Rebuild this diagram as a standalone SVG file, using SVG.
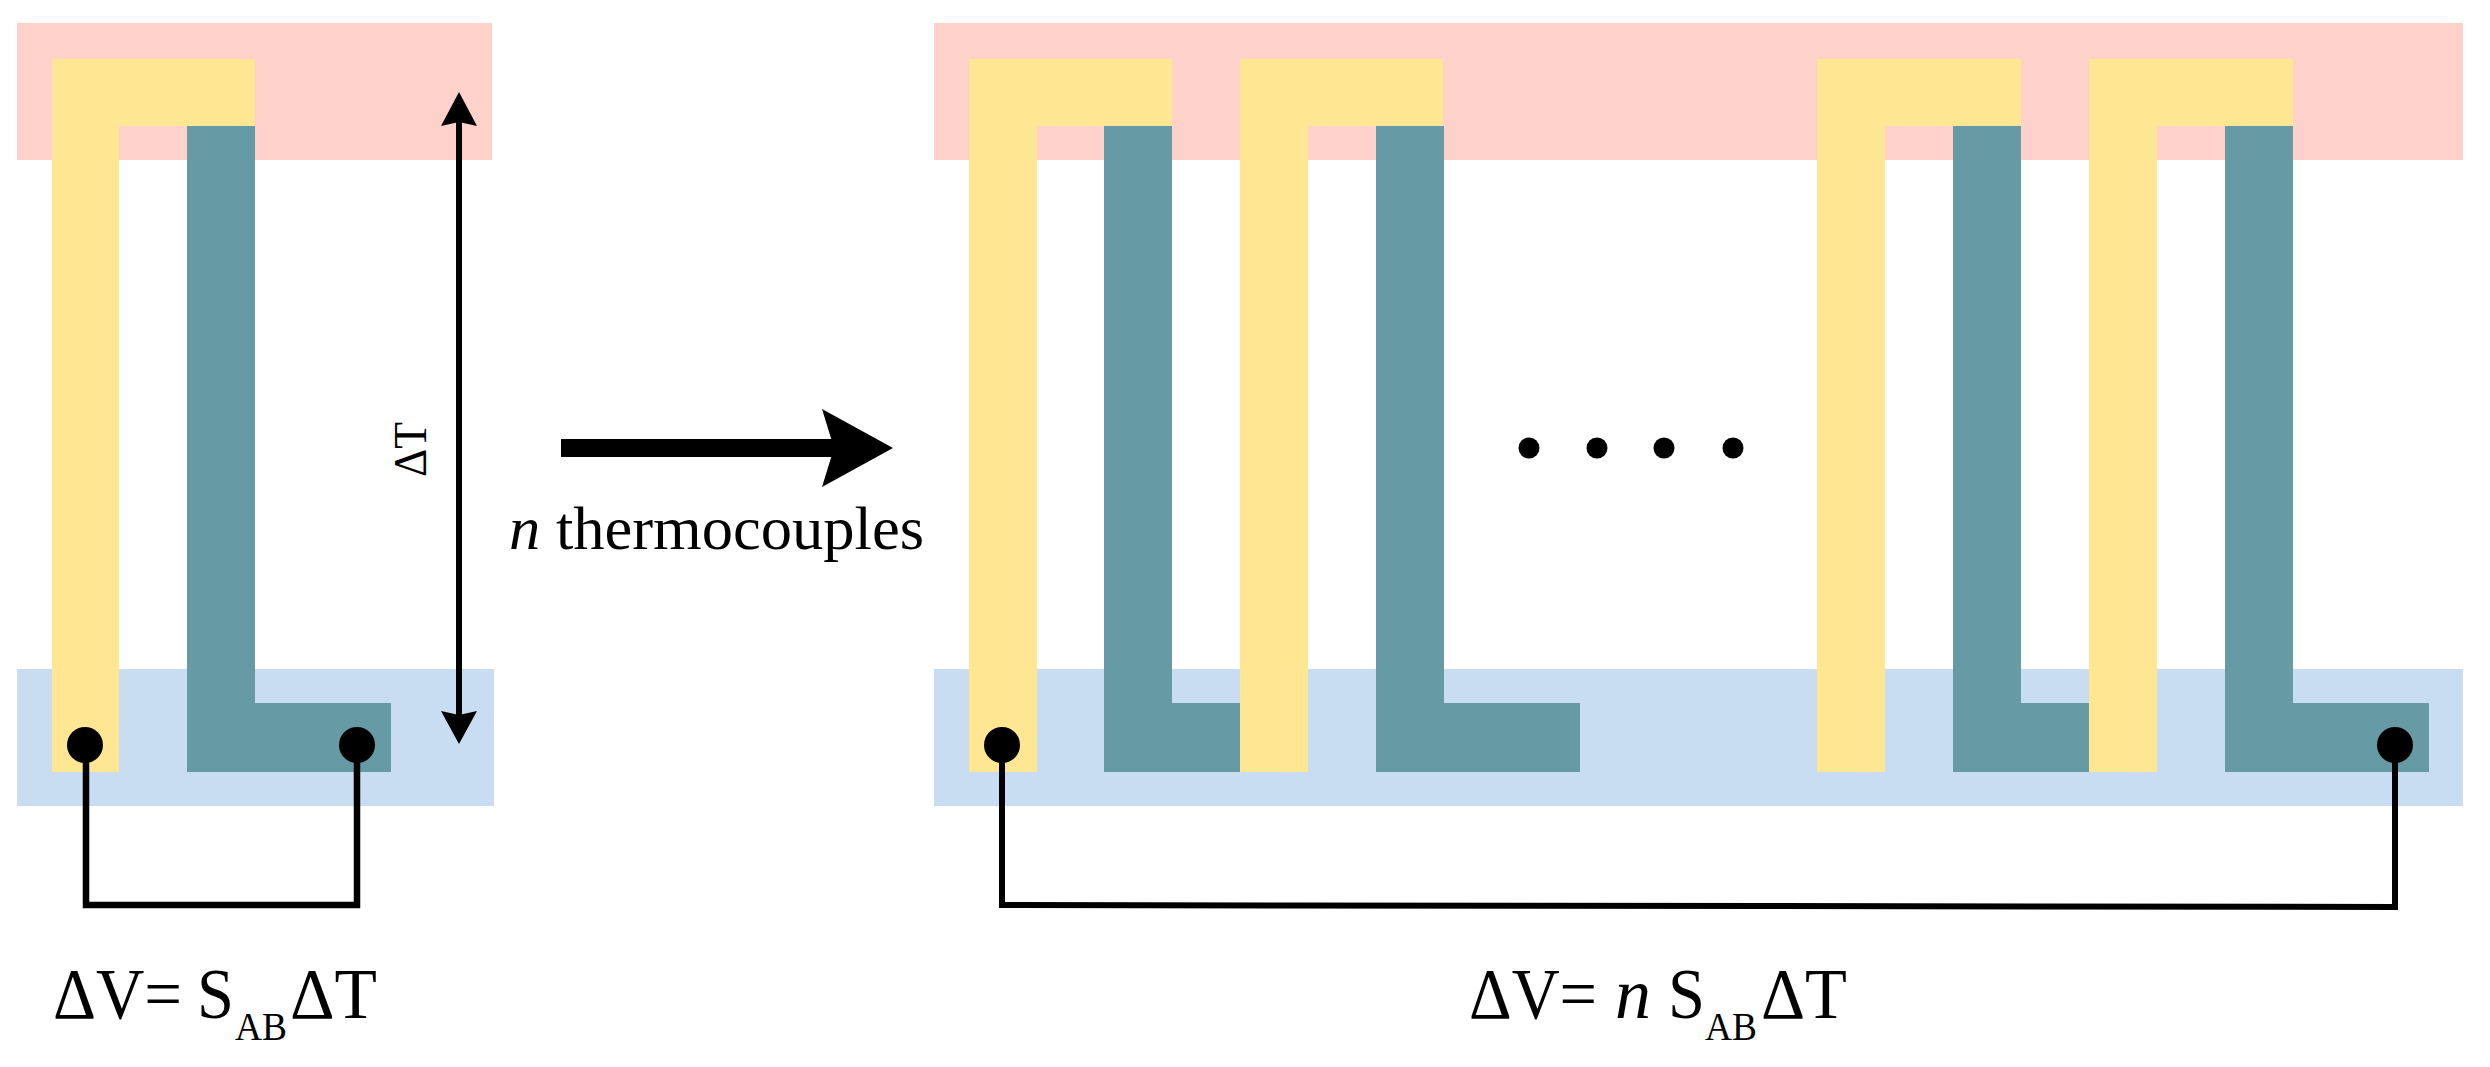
<svg xmlns="http://www.w3.org/2000/svg" width="2490" height="1067" viewBox="0 0 2490 1067">
<style>
.hot{fill:#ffd1cb}.cold{fill:#c9ddf2}.y{fill:#ffe692}.t{fill:#669ba5}
.w{fill:none;stroke:#000;stroke-width:6}
.d{fill:#000}
text{font-family:"Liberation Serif","Times New Roman",serif;fill:#000}
.big{font-size:72px}.sub{font-size:41px}.mid{font-size:61px}
</style>
<rect width="2490" height="1067" fill="#fff"/>
<g id="reservoirs">
<rect id="hot-left" class="hot" x="17" y="23" width="475" height="137"/>
<rect id="cold-left" class="cold" x="17" y="669" width="477" height="137"/>
<rect id="hot-right" class="hot" x="934" y="23" width="1529" height="137"/>
<rect id="cold-right" class="cold" x="934" y="669" width="1529" height="137"/>
</g>
<g id="tc-single">
<path class="t" d="M187 126H255V703H391V772H187Z"/>
<path class="y" d="M52 59H255V126H119V772H52Z"/>
</g>
<g id="tc-1">
<path class="t" d="M1104 126H1172V703H1240V772H1104Z"/>
<path class="y" d="M969 59H1172V126H1037V772H969Z"/>
</g>
<g id="tc-2">
<path class="t" d="M1376 126H1444V703H1580V772H1376Z"/>
<path class="y" d="M1240 59H1443V126H1308V772H1240Z"/>
</g>
<g id="tc-3">
<path class="t" d="M1953 126H2021V703H2089V772H1953Z"/>
<path class="y" d="M1817 59H2021V126H1885V772H1817Z"/>
</g>
<g id="tc-4">
<path class="t" d="M2225 126H2293V703H2429V772H2225Z"/>
<path class="y" d="M2089 59H2293V126H2157V772H2089Z"/>
</g>
<g id="connectors">
<path class="w" style="stroke-width:6.5" d="M86 745V905H357V745"/>
<path class="w" d="M1002 745V905L2395 907V745"/>
<path d="M459 122V715" stroke="#000" stroke-width="6" fill="none"/>
<path class="d" d="M459 92L477 126L459 122L441 126Z"/>
<path class="d" d="M459 744L477 711L459 715L441 711Z"/>
<path class="d" d="M561 439H834V457H561Z"/>
<path class="d" d="M893 448L822 409L834 448L822 487Z"/>
</g>
<g id="terminals">
<circle class="d" cx="85" cy="745" r="18"/>
<circle class="d" cx="357" cy="745" r="18"/>
<circle class="d" cx="1002" cy="745" r="18"/>
<circle class="d" cx="2395" cy="745" r="18"/>
</g>
<g id="ellipsis">
<circle class="d" cx="1529" cy="448" r="10.5"/>
<circle class="d" cx="1597" cy="448" r="10.5"/>
<circle class="d" cx="1664" cy="448" r="10.5"/>
<circle class="d" cx="1733" cy="448" r="10.5"/>
</g>
<g id="labels">
<text transform="translate(426 477) rotate(-90)" font-size="46" textLength="55" lengthAdjust="spacingAndGlyphs">ΔT</text>
<text class="mid" x="509" y="549" textLength="415" lengthAdjust="spacingAndGlyphs"><tspan font-style="italic">n</tspan> thermocouples</text>
<text class="big" x="53" y="1018" textLength="129" lengthAdjust="spacingAndGlyphs">ΔV=</text>
<text class="big" x="197" y="1018" textLength="37" lengthAdjust="spacingAndGlyphs">S</text>
<text class="sub" x="235" y="1040" textLength="52" lengthAdjust="spacingAndGlyphs">AB</text>
<text class="big" x="290" y="1018" textLength="87" lengthAdjust="spacingAndGlyphs">ΔT</text>
<text class="big" x="1469" y="1018" textLength="128" lengthAdjust="spacingAndGlyphs">ΔV=</text>
<text class="big" x="1615" y="1018" font-style="italic" textLength="36" lengthAdjust="spacingAndGlyphs">n</text>
<text class="big" x="1668" y="1018" textLength="37" lengthAdjust="spacingAndGlyphs">S</text>
<text class="sub" x="1705" y="1040" textLength="52" lengthAdjust="spacingAndGlyphs">AB</text>
<text class="big" x="1761" y="1018" textLength="86" lengthAdjust="spacingAndGlyphs">ΔT</text>
</g>
</svg>
